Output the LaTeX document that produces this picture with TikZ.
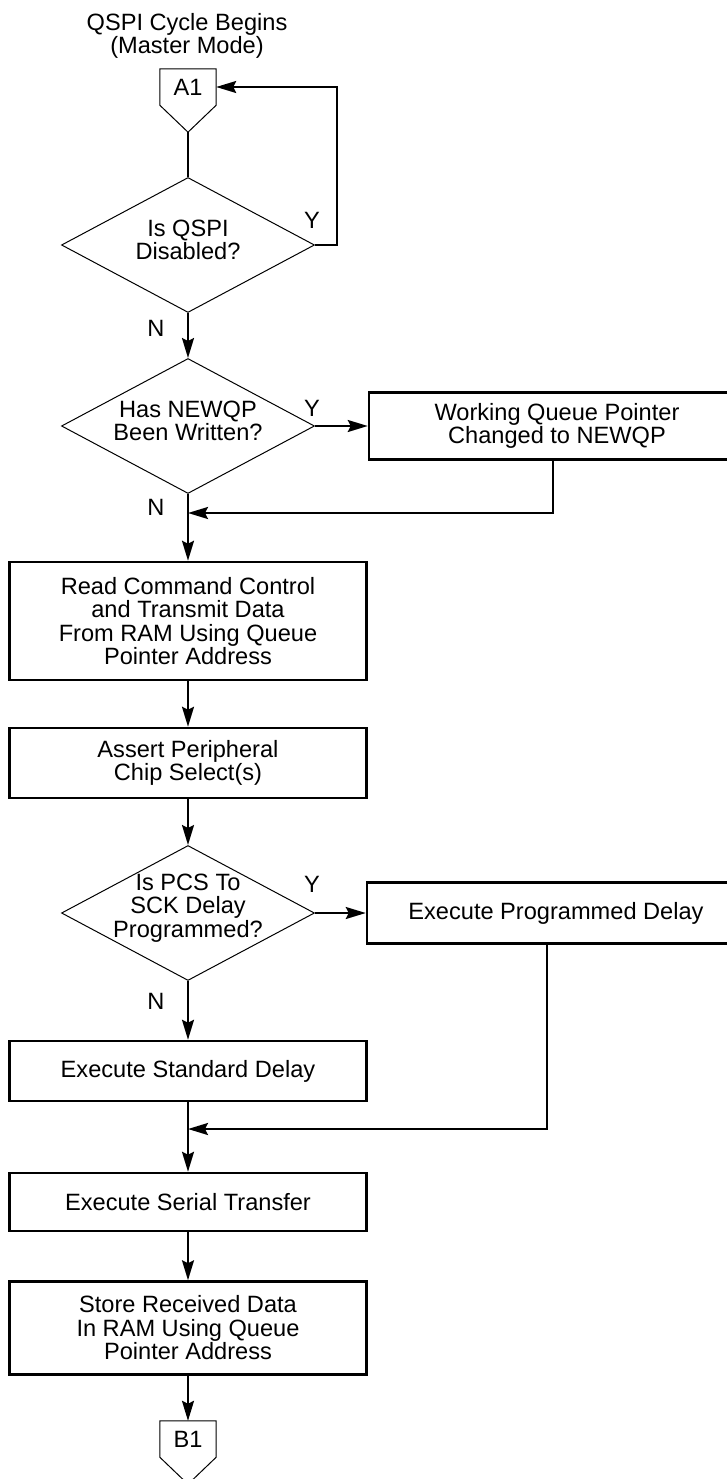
\documentclass[tikz,border=0pt]{standalone}
\usepackage{fontspec}
\setmainfont{Liberation Sans}
\usetikzlibrary{arrows.meta,shapes.geometric}

\begin{document}
\begin{tikzpicture}[
  x=1pt,y=-1pt,
  every node/.style={font=\fontsize{23.6pt}{23.5pt}\selectfont},
  process/.style={draw,line width=2.5pt,align=center,inner sep=0pt,
    minimum width=357pt},
  decision/.style={diamond,draw,line width=1pt,inner sep=0pt,
    minimum width=253pt,minimum height=135pt,
    label={[align=center,yshift=5pt]center:{#1}}},
  offpage/.style={inner sep=0pt,minimum width=56pt,minimum height=36pt},
  answer/.style={inner sep=0pt},
  flow/.style={line width=2.2pt},
  flowto/.style={flow,-{Stealth[length=20pt,width=12pt,inset=3pt]}}
]
\useasboundingbox (0,0) rectangle (726,1479);

\node[align=center] (title) at (187,36) {QSPI Cycle Begins\\(Master Mode)};
\node[offpage] (a1) at (188,87) {A1};
\node[decision={Is QSPI\\Disabled?}] (qspioff) at (188,245) {};
\node[decision={Has NEWQP\\Been Written?}] (newqp) at (188,426) {};
\node[process,minimum width=376pt,minimum height=67pt] (chgqp) at (557,426)
  {Working Queue Pointer\\Changed to NEWQP};
\node[process,minimum height=118pt] (readcmd) at (188,621)
  {Read Command Control\\and Transmit Data\\From RAM Using Queue\\Pointer Address};
\node[process,minimum height=70pt] (assert) at (188,763)
  {Assert Peripheral\\Chip Select(s)};
\node[decision={Is PCS To\\SCK Delay\\Programmed?}] (pcsdly) at (188,913) {};
\node[process,minimum width=378pt,minimum height=61pt] (progdly) at (556,913)
  {Execute Programmed Delay};
\node[process,minimum height=60pt] (stddly) at (188,1071) {Execute Standard Delay};
\node[process,minimum height=58pt] (serial) at (188,1202) {Execute Serial Transfer};
\node[process,minimum height=93pt] (store) at (188,1328)
  {Store Received Data\\In RAM Using Queue\\Pointer Address};
\node[offpage] (b1) at (188,1439) {B1};

% Y / N answers
\node[answer] (ans1y) at (312,220) {Y};
\node[answer] (ans1n) at (156,328) {N};
\node[answer] (ans2y) at (312,408) {Y};
\node[answer] (ans2n) at (156,507) {N};
\node[answer] (ans3y) at (312,884) {Y};
\node[answer] (ans3n) at (156,1001) {N};

% off-page connectors
\foreach \c in {a1,b1}
  \draw[line width=1pt] (\c.south west) |- (\c.north east) -- (\c.south east)
    -- ([yshift=-27pt]\c.south) -- cycle;
\coordinate (a1tip) at ([yshift=-27pt]a1.south);
\coordinate (join1) at (188,513);
\coordinate (join2) at (188,1129);

\draw[flow] (a1tip) -- (qspioff.north);
\draw[flowto] (qspioff.east) -- ++(22,0) |- (a1.east);
\draw[flowto] (qspioff.south) -- (newqp.north);
\draw[flowto] (newqp.east) -- (chgqp.west);
\draw[flowto] ([xshift=-4pt]chgqp.south) |- (join1);
\draw[flowto] (newqp.south) -- (readcmd.north);
\draw[flowto] (readcmd) -- (assert);
\draw[flowto] (assert) -- (pcsdly.north);
\draw[flowto] (pcsdly.east) -- (progdly.west);
\draw[flowto] (pcsdly.south) -- (stddly.north);
\draw[flowto] ([xshift=-9pt]progdly.south) |- (join2);
\draw[flowto] (stddly) -- (serial);
\draw[flowto] (serial) -- (store);
\draw[flowto] (store) -- (b1.north);
\end{tikzpicture}
\end{document}
